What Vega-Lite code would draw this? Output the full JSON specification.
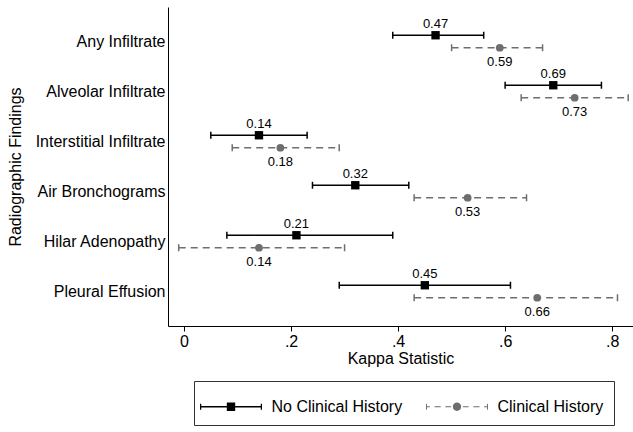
{
  "$schema": "https://vega.github.io/schema/vega-lite/v6.json",
  "autosize": {"type": "none"},
  "padding": {"left": 168, "top": 7, "right": 0, "bottom": 106},
  "width": 465,
  "height": 319,
  "background": "white",
  "config": {
    "view": {"stroke": null},
    "font": "Liberation Sans",
    "axis": {"domainColor": "black", "tickColor": "black", "labelColor": "black", "titleColor": "black", "grid": false, "labelFont": "Liberation Sans", "titleFont": "Liberation Sans", "titleFontWeight": "normal", "labelFontSize": 16, "titleFontSize": 16}
  },
  "data": {
    "values": [
      {"finding": "Any Infiltrate", "series": "No Clinical History", "k": 0.47, "lo": 0.39, "hi": 0.56},
      {"finding": "Any Infiltrate", "series": "Clinical History", "k": 0.59, "lo": 0.50, "hi": 0.67},
      {"finding": "Alveolar Infiltrate", "series": "No Clinical History", "k": 0.69, "lo": 0.60, "hi": 0.78},
      {"finding": "Alveolar Infiltrate", "series": "Clinical History", "k": 0.73, "lo": 0.63, "hi": 0.83},
      {"finding": "Interstitial Infiltrate", "series": "No Clinical History", "k": 0.14, "lo": 0.05, "hi": 0.23},
      {"finding": "Interstitial Infiltrate", "series": "Clinical History", "k": 0.18, "lo": 0.09, "hi": 0.29},
      {"finding": "Air Bronchograms", "series": "No Clinical History", "k": 0.32, "lo": 0.24, "hi": 0.42},
      {"finding": "Air Bronchograms", "series": "Clinical History", "k": 0.53, "lo": 0.43, "hi": 0.64},
      {"finding": "Hilar Adenopathy", "series": "No Clinical History", "k": 0.21, "lo": 0.08, "hi": 0.39},
      {"finding": "Hilar Adenopathy", "series": "Clinical History", "k": 0.14, "lo": -0.01, "hi": 0.30},
      {"finding": "Pleural Effusion", "series": "No Clinical History", "k": 0.45, "lo": 0.29, "hi": 0.61},
      {"finding": "Pleural Effusion", "series": "Clinical History", "k": 0.66, "lo": 0.43, "hi": 0.81}
    ]
  },
  "encoding": {
    "y": {
      "field": "finding", "type": "nominal", "sort": null,
      "scale": {"paddingInner": 0, "paddingOuter": 0.19},
      "axis": {"title": "Radiographic Findings", "ticks": false, "labelPadding": 3, "titlePadding": 12, "domainWidth": 1}
    },
    "yOffset": {
      "field": "series", "type": "nominal",
      "sort": ["No Clinical History", "Clinical History"],
      "scale": {"paddingInner": 0, "paddingOuter": 1.5}
    },
    "color": {
      "field": "series", "type": "nominal",
      "scale": {"domain": ["No Clinical History", "Clinical History"], "range": ["#000000", "#6e6e6e"]},
      "legend": {
        "title": null,
        "orient": "none",
        "legendX": 26,
        "legendY": 374,
        "direction": "horizontal",
        "strokeColor": "#333333",
        "padding": 10,
        "symbolSize": 961,
        "symbolStrokeWidth": 0,
        "symbolOpacity": 1,
        "symbolOffset": 11.5,
        "labelOffset": 25,
        "columnPadding": 23,
        "labelFontSize": 16,
        "labelFont": "Liberation Sans",
        "labelColor": "black",
        "labelLimit": 300,
        "encode": {
          "symbols": {
            "update": {
              "shape": {"signal": "datum.value == 'No Clinical History' ? 'M-2,-0.045H2V0.045H-2ZM-2,-0.2H-1.92V0.2H-2ZM1.92,-0.2H2V0.2H1.92ZM-0.27,-0.27H0.27V0.27H-0.27Z' : 'M-2,-0.2H-1.94V0.2H-2ZM1.94,-0.2H2V0.2H1.94ZM-2,-0.04H-1.75V0.04H-2ZM-1.45,-0.04H-1.05V0.04H-1.45ZM-0.75,-0.04H-0.38V0.04H-0.75ZM0.38,-0.04H0.75V0.04H0.38ZM1.05,-0.04H1.45V0.04H1.05ZM1.75,-0.04H2V0.04H1.75ZM0.27,0A0.27,0.27 0 1,1 -0.27,0A0.27,0.27 0 1,1 0.27,0Z'"},
              "size": {"value": 961},
              "fill": {"scale": "color", "field": "value"},
              "strokeWidth": {"value": 0},
              "opacity": {"value": 1}
            }
          }
        }
      }
    }
  },
  "layer": [
    {
      "mark": {"type": "rule", "strokeWidth": 1.5},
      "encoding": {
        "x": {
          "field": "lo", "type": "quantitative",
          "scale": {"domain": [-0.03, 0.839], "nice": false, "zero": false},
          "axis": {"title": "Kappa Statistic", "values": [0, 0.2, 0.4, 0.6, 0.8], "tickSize": 5, "labelPadding": 2, "titlePadding": 1, "labelExpr": "datum.value == 0 ? '0' : substring(format(datum.value, '.1f'), 1)"}
        },
        "x2": {"field": "hi"},
        "strokeDash": {
          "field": "series", "type": "nominal",
          "scale": {"domain": ["No Clinical History", "Clinical History"], "range": [[1, 0], [7, 5]]},
          "legend": null
        }
      }
    },
    {
      "mark": {"type": "tick", "orient": "vertical", "size": 7, "thickness": 1.5, "opacity": 1},
      "encoding": {"x": {"field": "lo", "type": "quantitative"}}
    },
    {
      "mark": {"type": "tick", "orient": "vertical", "size": 7, "thickness": 1.5, "opacity": 1},
      "encoding": {"x": {"field": "hi", "type": "quantitative"}}
    },
    {
      "transform": [{"filter": "datum.series == 'No Clinical History'"}],
      "mark": {"type": "square", "size": 70, "opacity": 1},
      "encoding": {"x": {"field": "k", "type": "quantitative"}}
    },
    {
      "transform": [{"filter": "datum.series == 'Clinical History'"}],
      "mark": {"type": "circle", "size": 60, "opacity": 1},
      "encoding": {"x": {"field": "k", "type": "quantitative"}}
    },
    {
      "transform": [{"filter": "datum.series == 'No Clinical History'"}],
      "mark": {"type": "text", "baseline": "bottom", "dy": -4, "fontSize": 13, "font": "Liberation Sans"},
      "encoding": {
        "x": {"field": "k", "type": "quantitative"},
        "text": {"field": "k", "type": "quantitative", "format": ".2f"},
        "color": {"value": "black"}
      }
    },
    {
      "transform": [{"filter": "datum.series == 'Clinical History'"}],
      "mark": {"type": "text", "baseline": "top", "dy": 8, "fontSize": 13, "font": "Liberation Sans"},
      "encoding": {
        "x": {"field": "k", "type": "quantitative"},
        "text": {"field": "k", "type": "quantitative", "format": ".2f"},
        "color": {"value": "black"}
      }
    }
  ]
}
